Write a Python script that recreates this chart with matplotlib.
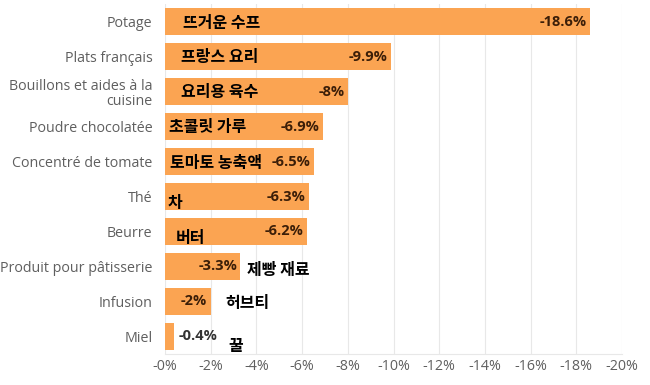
import matplotlib.pyplot as plt

# data
categories = ['Potage', 'Plats français', 'Bouillons et aides à la\ncuisine',
              'Poudre chocolatée', 'Concentré de tomate', 'Thé', 'Beurre',
              'Produit pour pâtisserie', 'Infusion', 'Miel']
korean = ['뜨거운 수프', '프랑스 요리', '요리용 육수', '초콜릿 가루', '토마토 농축액',
          '차', '버터', '제빵 재료', '허브티', '꿀']
values = [-18.6, -9.9, -8, -6.9, -6.5, -6.3, -6.2, -3.3, -2, -0.4]
value_labels = ['-18.6%', '-9.9%', '-8%', '-6.9%', '-6.5%', '-6.3%', '-6.2%',
                '-3.3%', '-2%', '-0.4%']
xticks = [0, -2, -4, -6, -8, -10, -12, -14, -16, -18, -20]

# where the korean notes sit (x in %, y shift in rows)
kr_x = [-0.8, -0.7, -0.7, -0.15, -0.2, -0.1, -0.45, -3.6, -2.65, -2.75]
kr_dy = [0.05, 0.0, 0.0, 0.0, 0.05, 0.2, 0.2, 0.1, 0.05, 0.27]

bar_color = '#FBA452'
grid_color = '#E8E8E8'
tick_color = '#5F5F5F'
lab_font = ['Open Sans', 'DejaVu Sans']
kr_font = ['Noto Sans CJK KR', 'DejaVu Sans']

fig = plt.figure(figsize=(6.5, 3.85), dpi=100)
ax = fig.add_axes([0.254, 0.081, 0.703, 0.908])

y = list(range(len(categories)))
ax.barh(y, values, height=0.78, color=bar_color, zorder=2)
ax.set_xlim(0, -20)
ax.set_ylim(len(categories) - 0.5, -0.5)

ax.set_xticks(xticks)
ax.set_xticklabels([f'-{abs(t)}%' for t in xticks], fontsize=10.3,
                   color=tick_color, family=lab_font)
ax.set_yticks(y)
ax.set_yticklabels(categories, fontsize=10.3, color=tick_color,
                   family=lab_font, linespacing=1.0)
ax.tick_params(length=0, axis='y', pad=9)
ax.tick_params(length=0, axis='x', pad=4)
ax.grid(axis='x', color=grid_color, linewidth=0.8, zorder=0)

for s in ['top', 'right', 'left']:
    ax.spines[s].set_visible(False)
ax.spines['bottom'].set_color(grid_color)

for i, v in enumerate(values):
    if abs(v) > 1:
        ax.text(v + 0.15, i, value_labels[i], ha='right', va='center',
                fontsize=10.5, fontweight='bold', color='#3B1E08',
                family=lab_font, zorder=3)
    else:
        ax.text(v - 0.2, i, value_labels[i], ha='left', va='center',
                fontsize=10.5, fontweight='bold', color='#333333',
                family=lab_font, zorder=3)
    ax.text(kr_x[i], i + kr_dy[i], korean[i], ha='left', va='center',
            fontsize=11.5, fontweight='bold', color='black',
            family=kr_font, zorder=3)

fig.savefig('out.png', dpi=100)
